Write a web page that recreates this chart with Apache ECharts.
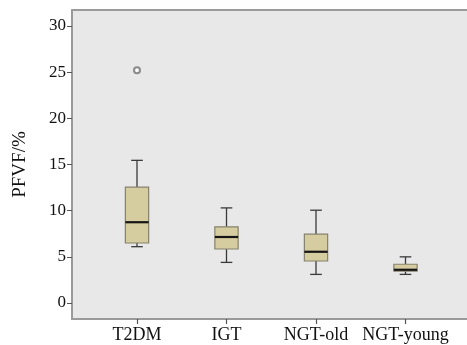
<!DOCTYPE html>
<html>
<head>
<meta charset="utf-8">
<script src="https://cdn.jsdelivr.net/npm/echarts@6/dist/echarts.min.js"></script>
<style>
html, body { margin: 0; padding: 0; background: #ffffff; }
#main { width: 467px; height: 345px; }
</style>
</head>
<body>
<div id="main"></div>
<script>
// 分组
var categories = ['T2DM', 'IGT', 'NGT-old', 'NGT-young'];
// 箱线图数值
var lowerWhisker = [6.1, 4.4, 3.1, 3.1];
var q1 = [6.5, 5.85, 4.55, 3.45];
var median = [8.75, 7.15, 5.55, 3.6];
var q3 = [12.55, 8.25, 7.45, 4.2];
var upperWhisker = [15.45, 10.3, 10.05, 5.0];
// 离群点 [组序号, 值]
var outliers = [[0, 25.2]];
var yTicks = [0, 5, 10, 15, 20, 25, 30];

var boxData = [];
for (var i = 0; i < categories.length; i++) {
	boxData.push([i, lowerWhisker[i], q1[i], median[i], q3[i], upperWhisker[i]]);
}

function renderBox(params, api) {
	var idx = api.value(0);
	var band = api.size([1, 0])[0];
	var boxW = band * 0.26;
	var capW = band * 0.13;
	var pLow = api.coord([idx, api.value(1)]);
	var pQ1 = api.coord([idx, api.value(2)]);
	var pMed = api.coord([idx, api.value(3)]);
	var pQ3 = api.coord([idx, api.value(4)]);
	var pHigh = api.coord([idx, api.value(5)]);
	var cx = pMed[0];
	var lineStyle = { stroke: '#3a3a3a', lineWidth: 1.3 };
	return {
		type: 'group',
		children: [
			{ type: 'line', shape: { x1: cx, y1: pQ3[1], x2: cx, y2: pHigh[1] }, style: lineStyle },
			{ type: 'line', shape: { x1: cx, y1: pQ1[1], x2: cx, y2: pLow[1] }, style: lineStyle },
			{ type: 'line', shape: { x1: cx - capW / 2, y1: pHigh[1], x2: cx + capW / 2, y2: pHigh[1] }, style: lineStyle },
			{ type: 'line', shape: { x1: cx - capW / 2, y1: pLow[1], x2: cx + capW / 2, y2: pLow[1] }, style: lineStyle },
			{
				type: 'rect',
				shape: { x: cx - boxW / 2, y: pQ3[1], width: boxW, height: pQ1[1] - pQ3[1] },
				style: { fill: '#d5cc9f', stroke: '#86826c', lineWidth: 1.2 }
			},
			{ type: 'line', shape: { x1: cx - boxW / 2, y1: pMed[1], x2: cx + boxW / 2, y2: pMed[1] }, style: { stroke: '#151515', lineWidth: 2.2 } }
		]
	};
}

// 背景框用的隐藏轴 (只画轴线)
function frameAxis(extra) {
	var a = {
		gridIndex: 0, type: 'value', min: 0, max: 1,
		axisLine: { show: true, onZero: false, lineStyle: { color: '#9a9a9a', width: 2 } },
		axisTick: { show: false },
		axisLabel: { show: false },
		splitLine: { show: false }
	};
	for (var k in extra) a[k] = extra[k];
	return a;
}

var myChart = echarts.init(document.getElementById('main'));
var option = {
	animation: false,
	textStyle: { fontFamily: 'Liberation Serif' },
	grid: [{
		// 背景框, 右边超出画布
		left: 72, top: 10, width: 420, height: 309,
		outerBoundsMode: 'none',
		show: true,
		backgroundColor: '#e8e8e8',
		borderWidth: 0
	}, {
		// 数据区 (y 轴范围按刻度 0->303px, 30->26px 推出)
		left: 92.25, top: 10, width: 358, height: 309,
		outerBoundsMode: 'none'
	}],
	xAxis: [frameAxis({ position: 'bottom' }), {
		gridIndex: 1,
		type: 'category',
		data: categories,
		position: 'bottom',
		z: 10,
		axisLine: { show: true, onZero: false, lineStyle: { color: 'rgba(0,0,0,0)' } },
		axisTick: { show: true, inside: false, alignWithLabel: true, interval: 0, length: 5, lineStyle: { color: '#555', width: 1.2 } },
		axisLabel: { color: '#111', fontSize: 18, fontFamily: 'Liberation Serif', margin: 7, interval: 0 }
	}, frameAxis({ position: 'top' })],
	yAxis: [frameAxis({ position: 'left' }), {
		gridIndex: 1,
		type: 'value',
		min: -1.73,
		max: 31.73,
		offset: 20.25,
		name: 'PFVF/%',
		nameLocation: 'middle',
		nameGap: 42,
		nameTextStyle: { color: '#111', fontSize: 19, fontFamily: 'Liberation Serif' },
		splitLine: { show: false },
		axisLine: { show: false },
		axisTick: { show: true, length: 5, lineStyle: { color: '#555' }, customValues: yTicks },
		axisLabel: { color: '#111', fontSize: 17, fontFamily: 'Liberation Serif', margin: 6,
			customValues: yTicks }
	}],
	series: [{
		type: 'custom',
		xAxisIndex: 1,
		yAxisIndex: 1,
		renderItem: renderBox,
		encode: { x: 0, y: [1, 2, 3, 4, 5] },
		data: boxData
	}, {
		type: 'scatter',
		xAxisIndex: 1,
		yAxisIndex: 1,
		symbol: 'emptyCircle',
		symbolSize: 6,
		itemStyle: { color: '#707070', borderColor: '#707070', borderWidth: 1.3 },
		data: outliers
	}]
};
myChart.setOption(option);
</script>
</body>
</html>
